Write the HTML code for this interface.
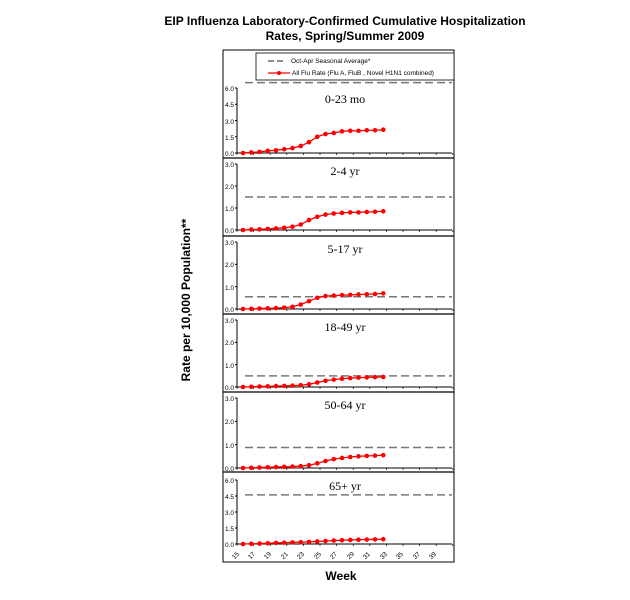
<!DOCTYPE html>
<html><head><meta charset="utf-8"><style>
body{margin:0;background:#fff}
svg{display:block}
.t{font-family:"Liberation Sans",Arial,sans-serif;font-weight:bold}
.s{font-family:"Liberation Serif",serif;font-size:12px}
.k{font-family:"Liberation Sans",sans-serif;font-size:6.5px;fill:#000}
</style></head><body>
<svg id="c" width="630" height="600" viewBox="0 0 630 600" xmlns="http://www.w3.org/2000/svg">
<text class="t" x="345" y="25" font-size="12" text-anchor="middle">EIP Influenza Laboratory-Confirmed Cumulative Hospitalization</text>
<text class="t" x="345" y="40" font-size="12" text-anchor="middle">Rates, Spring/Summer 2009</text>
<text class="t" x="190" y="300" font-size="12" text-anchor="middle" transform="rotate(-90 190 300)">Rate per 10,000 Population**</text>
<text class="t" x="341" y="580" font-size="12" text-anchor="middle">Week</text>
<rect x="223" y="50" width="231" height="512" fill="none" stroke="#000" stroke-width="1"/>
<g id="g"></g>
<rect x="256" y="53" width="198" height="27" fill="#fff" stroke="#000" stroke-width="0.8"/>
<line x1="268" y1="61" x2="283" y2="61" stroke="#666" stroke-width="1.5" stroke-dasharray="6,3"/>
<text class="k" x="291" y="63">Oct-Apr Seasonal Average*</text>
<line x1="268" y1="73" x2="290" y2="73" stroke="#f00" stroke-width="1.2"/>
<circle cx="279" cy="73" r="2" fill="#f00"/>
<text class="k" x="292" y="75">All Flu Rate (Flu A, FluB , Novel H1N1 combined)</text>
<text class="s" x="345" y="103" text-anchor="middle">0-23 mo</text>
<text class="s" x="345" y="175" text-anchor="middle">2-4 yr</text>
<text class="s" x="345" y="253" text-anchor="middle">5-17 yr</text>
<text class="s" x="345" y="331" text-anchor="middle">18-49 yr</text>
<text class="s" x="345" y="409" text-anchor="middle">50-64 yr</text>
<text class="s" x="345" y="490" text-anchor="middle">65+ yr</text>
<g class="k" font-size="6" text-anchor="middle">
<text transform="translate(237,557) rotate(-45)">15</text>
<text transform="translate(253,557) rotate(-45)">17</text>
<text transform="translate(269,557) rotate(-45)">19</text>
<text transform="translate(286,557) rotate(-45)">21</text>
<text transform="translate(302,557) rotate(-45)">23</text>
<text transform="translate(319,557) rotate(-45)">25</text>
<text transform="translate(335,557) rotate(-45)">27</text>
<text transform="translate(352,557) rotate(-45)">29</text>
<text transform="translate(368,557) rotate(-45)">31</text>
<text transform="translate(385,557) rotate(-45)">33</text>
<text transform="translate(401,557) rotate(-45)">35</text>
<text transform="translate(418,557) rotate(-45)">37</text>
<text transform="translate(434,557) rotate(-45)">39</text>
</g>
<g class="k" text-anchor="end">
<text x="234" y="91">6.0</text><text x="234" y="107">4.5</text><text x="234" y="124">3.0</text><text x="234" y="140">1.5</text><text x="234" y="156">0.0</text>
<text x="234" y="167">3.0</text><text x="234" y="189">2.0</text><text x="234" y="211">1.0</text><text x="234" y="233">0.0</text>
<text x="234" y="245">3.0</text><text x="234" y="267">2.0</text><text x="234" y="290">1.0</text><text x="234" y="312">0.0</text>
<text x="234" y="323">3.0</text><text x="234" y="345">2.0</text><text x="234" y="368">1.0</text><text x="234" y="390">0.0</text>
<text x="234" y="401">3.0</text><text x="234" y="424">2.0</text><text x="234" y="448">1.0</text><text x="234" y="471">0.0</text>
<text x="234" y="483">6.0</text><text x="234" y="499">4.5</text><text x="234" y="515">3.0</text><text x="234" y="531">1.5</text><text x="234" y="547">0.0</text>
</g>
</svg>
<script>
var g=document.getElementById('g'),NS="http://www.w3.org/2000/svg";
function el(n,a){var e=document.createElementNS(NS,n);for(var k in a)e.setAttribute(k,a[k]);g.appendChild(e);return e;}
var P=[
{top:88,bot:153,max:6,avg:6.5,sep:158,v:[0,0.05,0.1,0.2,0.25,0.35,0.45,0.65,1.0,1.5,1.75,1.85,2.0,2.05,2.05,2.1,2.1,2.15]},
{top:164,bot:230,max:3,avg:1.5,sep:236,v:[0,0.02,0.03,0.05,0.07,0.1,0.15,0.25,0.45,0.6,0.7,0.75,0.78,0.8,0.8,0.82,0.83,0.85]},
{top:242,bot:309,max:3,avg:0.55,sep:314,v:[0,0.01,0.02,0.03,0.04,0.06,0.1,0.2,0.35,0.5,0.58,0.6,0.62,0.63,0.65,0.66,0.67,0.7]},
{top:320,bot:387,max:3,avg:0.5,sep:392,v:[0,0.01,0.02,0.03,0.04,0.05,0.06,0.08,0.12,0.2,0.28,0.33,0.37,0.4,0.42,0.43,0.44,0.45]},
{top:398,bot:468,max:3,avg:0.88,sep:472,v:[0,0.01,0.02,0.03,0.04,0.05,0.06,0.08,0.12,0.2,0.3,0.38,0.43,0.47,0.5,0.52,0.53,0.55]},
{top:480,bot:544,max:6,avg:4.6,sep:0,v:[0,0.02,0.04,0.07,0.1,0.13,0.15,0.17,0.2,0.24,0.28,0.32,0.35,0.38,0.4,0.42,0.43,0.45]}];
P.forEach(function(p){
 function y(v){return p.bot-(p.bot-p.top)*v/p.max;}
 if(p.sep)el('line',{x1:223,x2:454,y1:p.sep,y2:p.sep,stroke:'#000','stroke-width':1.2});
 el('line',{x1:237,x2:237,y1:p.top,y2:p.bot,stroke:'#000','stroke-width':1});
 el('line',{x1:237,x2:452,y1:p.bot,y2:p.bot,stroke:'#000','stroke-width':1});
 var n=p.max==6?4:3;
 for(var i=0;i<=n;i++){var tv=p.top+(p.bot-p.top)*i/n;el('line',{x1:235,x2:237,y1:tv,y2:tv,stroke:'#000'});}
 for(var w=15;w<=41;w+=2){var x=237+(w-15)*8.3;el('line',{x1:x,x2:x,y1:p.bot,y2:p.bot+2,stroke:'#000','stroke-width':0.7});}
 el('line',{x1:245,x2:452,y1:y(p.avg),y2:y(p.avg),stroke:'#777','stroke-width':1.5,'stroke-dasharray':'8,4'});
 var pts=p.v.map(function(v,i){return (243+i*8.25)+','+y(v);}).join(' ');
 el('polyline',{points:pts,fill:'none',stroke:'#f00','stroke-width':1.3});
 p.v.forEach(function(v,i){el('circle',{cx:243+i*8.25,cy:y(v),r:2.3,fill:'#f00'});});
});
</script>
</body></html>
